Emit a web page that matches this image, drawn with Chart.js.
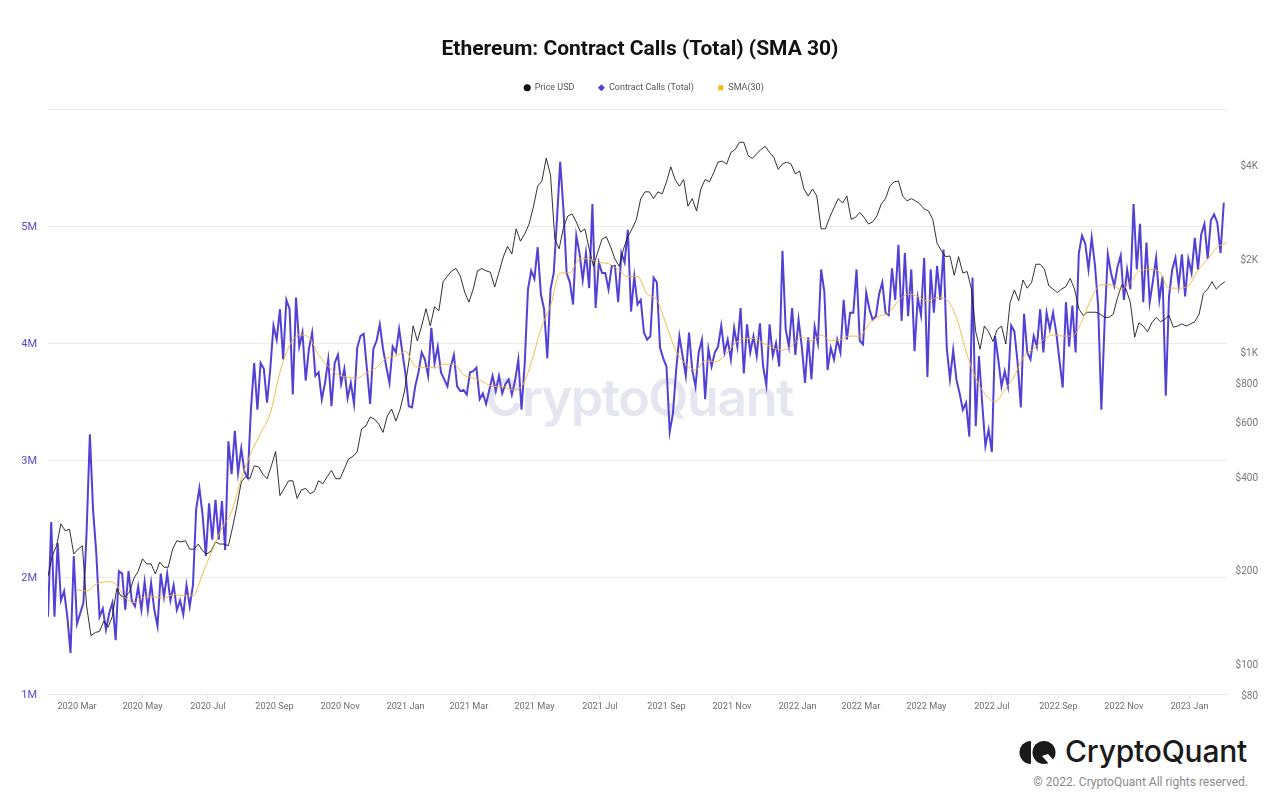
<!DOCTYPE html>
<html>
<head>
<meta charset="utf-8">
<title>Ethereum: Contract Calls (Total) (SMA 30)</title>
<script src="https://cdn.jsdelivr.net/npm/chart.js@4"></script>
<style>
  html, body { margin: 0; padding: 0; background: #fff; }
  #page { position: relative; width: 1280px; height: 806px; overflow: hidden; font-family: Roboto, sans-serif; }
  #chart { position: absolute; left: 0; top: 0; z-index: 1; }
  #watermark { position: absolute; left: 485px; top: 366px; font: 600 52px Inter, sans-serif; letter-spacing: -1.5px; color: #e6e6f1; white-space: nowrap; }
  #logo-text { position: absolute; left: 1065px; top: 733px; font: 500 30px Inter, sans-serif; letter-spacing: -0.2px; color: #1a1a1a; white-space: nowrap; }
  #logo-icon { position: absolute; left: 1018px; top: 740px; }
  #copyright { position: absolute; right: 32px; top: 775px; font-size: 12px; color: #8a8a8a; white-space: nowrap; }
</style>
</head>
<body>
<div id="page">
  <div id="watermark">CryptoQuant</div>
  <canvas id="chart" width="1280" height="806"></canvas>
  <svg id="logo-icon" width="40" height="26" viewBox="0 0 40 26">
    <path d="M13 1 A11.5 11.5 0 0 0 13 24 Z" fill="#1a1a1a"/>
    <circle cx="26" cy="12.5" r="11.5" fill="#1a1a1a"/>
    <path d="M24 16 L30 14 L39 24 L32 25 Z" fill="#fff"/>
  </svg>
  <div id="logo-text">CryptoQuant</div>
  <div id="copyright">© 2022. CryptoQuant All rights reserved.</div>
</div>
<script>
// Values
const startDate = '2020-02-03';
const lastDay = 1098;

// Contract calls in millions, one reading every 3 days
const contractStep = 3;
const contractCalls = [
  1.66,2.47,1.66,2.29,1.80,1.88,1.66,1.35,2.18,1.60,
  1.69,1.78,2.40,3.22,2.57,2.20,1.66,1.73,1.55,1.69,
  1.78,1.46,2.05,2.03,1.72,2.05,1.80,1.75,1.92,1.72,
  1.96,1.72,1.95,1.72,1.58,2.03,1.83,2.03,1.80,1.93,
  1.72,1.80,1.68,1.93,1.75,1.93,2.58,2.76,2.53,2.18,
  2.63,2.32,2.66,2.32,2.65,2.23,3.16,2.88,3.25,2.89,
  3.10,2.90,2.85,3.43,3.83,3.43,3.83,3.78,3.49,3.78,
  4.15,4.03,4.29,3.86,4.37,4.29,3.56,4.39,3.97,4.09,
  3.68,3.95,4.09,3.72,3.75,3.52,3.66,3.86,3.46,3.83,
  3.90,3.65,3.78,3.53,3.66,3.48,3.96,4.06,4.08,3.78,
  3.48,3.95,4.02,4.16,3.95,3.80,3.66,3.97,3.92,4.12,
  3.92,3.73,3.46,3.45,3.63,3.75,3.92,3.86,3.72,4.13,
  3.83,3.97,3.75,3.69,3.63,3.80,3.90,3.63,3.59,3.60,
  3.56,3.75,3.76,3.79,3.52,3.57,3.48,3.60,3.72,3.59,
  3.72,3.57,3.65,3.69,3.56,3.68,3.86,3.43,3.83,4.46,
  4.62,4.55,4.82,4.42,4.29,3.87,4.46,4.60,5.06,5.55,
  5.15,4.60,4.52,4.33,4.92,4.77,4.54,4.77,4.47,5.19,
  4.30,4.69,4.60,4.60,4.46,4.66,4.66,4.35,4.77,4.69,
  4.97,4.27,4.57,4.33,4.37,4.09,4.03,4.06,4.56,4.52,
  3.96,3.87,3.80,3.24,3.40,3.77,4.06,3.89,3.72,4.09,
  3.77,3.63,3.92,4.03,3.52,3.95,3.80,3.92,3.97,4.15,
  3.92,4.03,3.86,4.13,3.97,4.30,3.74,4.16,3.92,4.06,
  3.89,4.17,3.80,3.64,4.16,3.89,4.00,3.80,4.79,4.12,
  3.97,4.30,3.90,4.20,3.97,3.66,4.05,3.69,4.14,4.00,
  4.63,4.44,3.77,3.96,3.86,4.03,3.92,4.37,4.03,4.26,
  4.26,4.63,4.02,3.99,4.43,4.29,4.20,4.23,4.42,4.52,
  4.26,4.24,4.64,4.37,4.84,4.19,4.77,4.23,4.63,3.93,
  4.39,4.24,4.73,3.71,4.63,4.26,4.66,4.37,4.80,3.96,
  3.69,3.94,3.69,3.57,3.43,3.49,3.20,4.56,3.29,3.89,
  3.49,3.12,3.26,3.07,4.06,3.86,3.63,3.76,3.63,4.15,
  4.10,3.83,3.45,4.25,3.92,3.86,4.06,3.97,4.29,3.92,
  4.26,4.12,4.26,4.09,3.85,3.62,4.35,3.97,4.32,3.92,
  4.77,4.92,4.85,4.63,4.90,4.67,4.32,3.43,4.17,4.76,
  4.60,4.49,4.65,4.75,4.37,4.63,4.46,5.19,4.63,5.02,
  4.35,4.86,4.35,4.53,4.73,4.37,4.57,3.55,4.40,4.63,
  4.73,4.49,4.76,4.40,4.72,4.60,4.90,4.63,4.93,5.02,
  4.72,5.05,5.10,5.03,4.77,5.20
];

// Price in USD, one reading every 4 days
const priceStep = 4;
const priceUsd = [
  191,222,239,281,267,270,225,233,239,153,
  123,126,127,137,131,142,174,165,164,170,
  188,198,217,209,209,194,212,204,204,233,
  248,246,248,233,233,242,230,225,230,246,
  242,242,239,275,321,383,398,392,431,428,
  406,392,431,479,346,365,386,386,339,361,
  365,351,357,386,378,398,417,392,392,422,
  454,462,479,566,578,618,609,587,552,623,
  656,600,656,749,927,1212,1084,1212,1375,1212,
  1396,1354,1680,1750,1820,1850,1750,1556,1444,1590,
  1820,1850,1820,1800,1614,1800,2015,2180,2060,2480,
  2265,2390,2570,2910,3400,3530,4180,3690,2300,2140,
  2500,2725,2770,2610,2420,2480,2140,1880,2090,2300,
  2340,2170,1985,1880,2140,2340,2480,2660,3100,3260,
  3260,3100,3260,3210,3510,3920,3570,3400,3570,2930,
  3100,2830,3330,3570,3510,3760,4060,4090,4000,4360,
  4460,4700,4700,4260,4170,4320,4460,4560,4360,4200,
  3850,4000,4060,4000,3720,3800,3330,3160,3330,3160,
  2480,2480,2700,2900,3100,3000,3160,2660,2700,2800,
  2700,2570,2610,2730,2980,3100,3400,3510,3530,3160,
  3050,3100,3050,2980,2870,2830,2660,2230,2110,2020,
  2030,1760,2020,1790,1810,1590,1160,1020,1210,1160,
  1080,1180,1210,1060,1440,1580,1460,1700,1600,1670,
  1910,1910,1840,1630,1590,1550,1590,1620,1720,1590,
  1375,1310,1340,1340,1340,1320,1290,1290,1320,1490,
  1640,1590,1440,1115,1240,1210,1160,1240,1290,1250,
  1270,1310,1200,1210,1230,1210,1230,1250,1320,1540,
  1590,1680,1590,1640,1680
];

// SMA(30) in millions, one reading every 9 days
const smaStep = 9;
const sma30 = [
  null,null,null,1.89,1.88,1.94,1.96,1.94,1.82,1.78,
  1.83,1.83,1.82,1.85,1.84,1.84,2.03,2.23,2.42,2.56,
  2.84,3.06,3.23,3.40,3.75,3.98,4.07,4.05,3.90,3.80,
  3.73,3.71,3.70,3.75,3.79,3.87,3.89,3.93,3.80,3.79,
  3.79,3.82,3.82,3.73,3.70,3.67,3.63,3.63,3.60,3.63,
  3.83,4.12,4.32,4.60,4.60,4.72,4.72,4.69,4.68,4.63,
  4.57,4.57,4.42,4.37,4.15,3.93,3.82,3.77,3.85,3.84,
  3.89,3.99,4.04,4.04,4.00,3.96,3.94,3.98,4.05,4.02,
  4.07,4.02,4.03,4.06,4.06,4.17,4.23,4.26,4.36,4.42,
  4.40,4.36,4.39,4.37,4.22,3.93,3.70,3.56,3.50,3.60,
  3.72,3.89,3.95,4.03,4.07,4.06,4.06,4.19,4.39,4.50,
  4.50,4.46,4.52,4.62,4.63,4.61,4.47,4.47,4.49,4.62,
  4.72,4.82,4.86
];

// Tick labels
const monthDates = ['2020-03-01','2020-05-01','2020-07-01','2020-09-01','2020-11-01','2021-01-01','2021-03-01','2021-05-01','2021-07-01','2021-09-01','2021-11-01','2022-01-01','2022-03-01','2022-05-01','2022-07-01','2022-09-01','2022-11-01','2023-01-01'];
const monthLabels = ['2020 Mar','2020 May','2020 Jul','2020 Sep','2020 Nov','2021 Jan','2021 Mar','2021 May','2021 Jul','2021 Sep','2021 Nov','2022 Jan','2022 Mar','2022 May','2022 Jul','2022 Sep','2022 Nov','2023 Jan'];
const callTicks = [1, 2, 3, 4, 5];
const priceTicks = [80, 100, 200, 400, 600, 800, 1000, 2000, 4000];
const priceTickLabels = ['$80', '$100', '$200', '$400', '$600', '$800', '$1K', '$2K', '$4K'];

const DAY = 86400000;
const startMs = Date.parse(startDate);

function toPoints(values, step) {
  return values.map(function (v, i) {
    return { x: startMs + i * step * DAY, y: v };
  });
}

// Leaves room under the legend and nudges it right, same as the reference
const legendGap = {
  id: 'legendGap',
  beforeInit(chart) {
    const fit = chart.legend.fit;
    chart.legend.fit = function () {
      fit.call(this);
      this.height += 7;
    };
  },
  afterLayout(chart) {
    chart.legend.left += 4;
    chart.legend.right += 4;
  }
};

new Chart(document.getElementById('chart'), {
  type: 'line',
  plugins: [legendGap],
  data: {
    datasets: [
      {
        label: 'Price USD',
        data: toPoints(priceUsd, priceStep),
        yAxisID: 'yPrice',
        borderColor: '#1c1c1c',
        backgroundColor: '#111111',
        borderWidth: 0.9,
        pointRadius: 0,
        pointBorderWidth: 0,
        pointStyle: 'circle',
        order: 1
      },
      {
        label: 'Contract Calls (Total)',
        data: toPoints(contractCalls, contractStep),
        yAxisID: 'yCalls',
        borderColor: '#5340d6',
        backgroundColor: '#5340d6',
        borderWidth: 2,
        pointRadius: 0,
        pointBorderWidth: 0,
        pointStyle: 'rectRot',
        order: 2
      },
      {
        label: 'SMA(30)',
        data: toPoints(sma30, smaStep),
        yAxisID: 'yCalls',
        borderColor: '#f2b632',
        backgroundColor: '#f9b90d',
        borderWidth: 0.9,
        pointRadius: 0,
        pointBorderWidth: 0,
        pointStyle: 'rect',
        cubicInterpolationMode: 'monotone',
        order: 0
      }
    ]
  },
  options: {
    responsive: false,
    animation: false,
    events: [],
    layout: { padding: { left: 22, right: 22 } },
    plugins: {
      tooltip: { enabled: false },
      title: {
        display: true,
        text: 'Ethereum: Contract Calls (Total) (SMA 30)',
        color: '#111111',
        font: { family: 'Roboto', size: 21, weight: '700' },
        padding: { top: 37, bottom: -3 }
      },
      legend: {
        display: true,
        position: 'top',
        labels: {
          usePointStyle: true,
          boxWidth: 6,
          boxHeight: 5,
          padding: 24,
          color: '#555555',
          font: { family: 'Roboto', size: 9 },
          sort(a, b) { return a.datasetIndex - b.datasetIndex; }
        }
      }
    },
    scales: {
      x: {
        type: 'linear',
        min: startMs,
        max: startMs + lastDay * DAY,
        afterBuildTicks(scale) {
          scale.ticks = monthDates.map(function (d) { return { value: Date.parse(d) }; });
        },
        afterFit(scale) { scale.height = 112; },
        border: { color: '#e6e6e6' },
        grid: { drawOnChartArea: false, drawTicks: true, tickLength: 5, color: '#e6e6e6' },
        ticks: {
          autoSkip: false,
          maxRotation: 0,
          padding: 2,
          color: '#6e6e6e',
          font: { family: 'Roboto', size: 9.2 },
          callback(value) {
            return monthLabels[monthDates.findIndex(function (d) { return Date.parse(d) === value; })];
          }
        }
      },
      yCalls: {
        type: 'linear',
        position: 'left',
        min: 1,
        max: 6,
        afterFit(scale) { scale.width = 26; },
        border: { display: false },
        grid: { color: '#ebebeb', drawTicks: false },
        ticks: {
          stepSize: 1,
          padding: 11,
          labelOffset: 1,
          color: '#5b47d0',
          font: { family: 'Roboto', size: 11 },
          callback(value) {
            return callTicks.includes(value) ? value + 'M' : '';
          }
        }
      },
      yPrice: {
        type: 'logarithmic',
        position: 'right',
        min: 80,
        max: 6000,
        afterBuildTicks(scale) {
          scale.ticks = priceTicks.map(function (v) { return { value: v }; });
        },
        afterFit(scale) { scale.width = 31; },
        border: { display: false },
        grid: { drawOnChartArea: false, drawTicks: false },
        ticks: {
          padding: 11,
          labelOffset: 2,
          crossAlign: 'far',
          autoSkip: false,
          color: '#777777',
          font: { family: 'Roboto', size: 10 },
          callback(value) {
            return priceTickLabels[priceTicks.indexOf(value)];
          }
        }
      }
    }
  }
});
</script>
</body>
</html>
